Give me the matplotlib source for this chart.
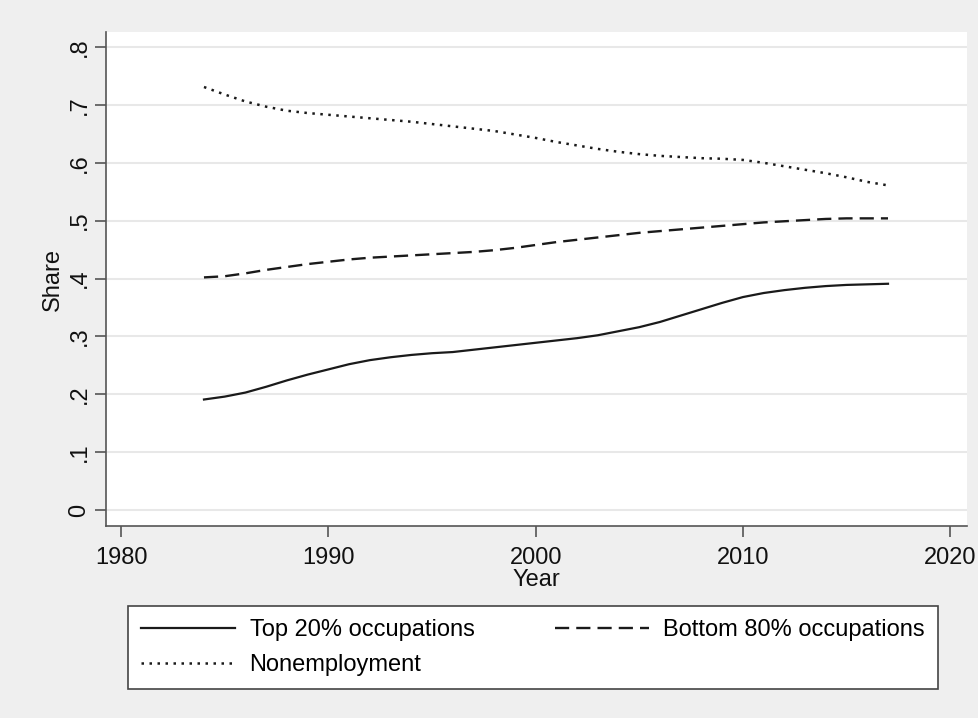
import matplotlib
matplotlib.use("Agg")
import matplotlib.pyplot as plt

plt.rcParams['font.family'] = ['Liberation Sans', 'DejaVu Sans']

# Data
years = list(range(1984, 2018))
top20 = [0.191, 0.196, 0.203, 0.213, 0.224, 0.234, 0.243, 0.252, 0.259, 0.264,
         0.268, 0.271, 0.273, 0.277, 0.281, 0.285, 0.289, 0.293, 0.297, 0.302,
         0.309, 0.316, 0.325, 0.336, 0.347, 0.358, 0.368, 0.375, 0.380, 0.384,
         0.387, 0.389, 0.390, 0.391]
bottom80 = [0.402, 0.404, 0.409, 0.415, 0.420, 0.425, 0.429, 0.433, 0.436, 0.438,
            0.440, 0.442, 0.444, 0.446, 0.449, 0.453, 0.458, 0.463, 0.467, 0.471,
            0.475, 0.479, 0.482, 0.485, 0.488, 0.491, 0.494, 0.497, 0.499, 0.501,
            0.503, 0.504, 0.504, 0.504]
nonemp = [0.731, 0.718, 0.706, 0.697, 0.690, 0.686, 0.683, 0.680, 0.677, 0.674,
          0.671, 0.667, 0.663, 0.659, 0.655, 0.649, 0.643, 0.636, 0.630, 0.624,
          0.619, 0.615, 0.612, 0.610, 0.608, 0.607, 0.605, 0.600, 0.594, 0.588,
          0.582, 0.575, 0.567, 0.561]

y_ticks = [0, 0.1, 0.2, 0.3, 0.4, 0.5, 0.6, 0.7, 0.8]
y_labels = ['0', '.1', '.2', '.3', '.4', '.5', '.6', '.7', '.8']
x_ticks = [1980, 1990, 2000, 2010, 2020]

bg = '#efefef'
fig = plt.figure(figsize=(9.79, 7.18), dpi=100, facecolor=bg)
ax = fig.add_axes([0.108, 0.2674, 0.8795, 0.688])
ax.set_facecolor('white')

l1, = ax.plot(years, top20, color='#1a1a1a', lw=1.6, label='Top 20% occupations')
l2, = ax.plot(years, bottom80, color='#1a1a1a', lw=1.7, dashes=(6, 3),
              label='Bottom 80% occupations')
l3, = ax.plot(years, nonemp, color='#1a1a1a', lw=1.8, dashes=(1, 2.2),
              label='Nonemployment')

ax.set_xlim(1979.26, 2020.8)
ax.set_ylim(-0.0276, 0.826)

ax.set_yticks(y_ticks)
ax.set_yticklabels(y_labels, rotation=90, va='center')
ax.set_xticks(x_ticks)
ax.grid(axis='y', color='#e8e8e8', lw=1.5)
ax.set_axisbelow(True)

for s in ['top', 'right']:
    ax.spines[s].set_visible(False)
for s in ['left', 'bottom']:
    ax.spines[s].set_color('#555555')
    ax.spines[s].set_linewidth(1.2)

ax.tick_params(axis='both', length=8, width=1.2, color='#555555',
               labelsize=17, labelcolor='#111111')
ax.tick_params(axis='y', pad=3)
ax.tick_params(axis='x', pad=7)

ax.set_xlabel('Year', fontsize=17, labelpad=0, color='#111111')
ax.set_ylabel('Share', fontsize=17, labelpad=3, color='#111111')

leg = fig.legend([l1, l3, l2],
                 ['Top 20% occupations', 'Nonemployment', 'Bottom 80% occupations'],
                 ncol=2, loc='center', mode='expand', borderaxespad=0,
                 bbox_to_anchor=(128 / 979, 1 - 688 / 718, 810 / 979, 81 / 718),
                 fontsize=17, frameon=True, fancybox=False, handlelength=4.0,
                 handletextpad=0.6, labelspacing=0.55, borderpad=0.55,
                 columnspacing=2.0, facecolor='white', framealpha=1)
leg.get_frame().set_edgecolor('#444444')
leg.get_frame().set_linewidth(1.2)

fig.savefig('out.png', dpi=100, facecolor=bg)
